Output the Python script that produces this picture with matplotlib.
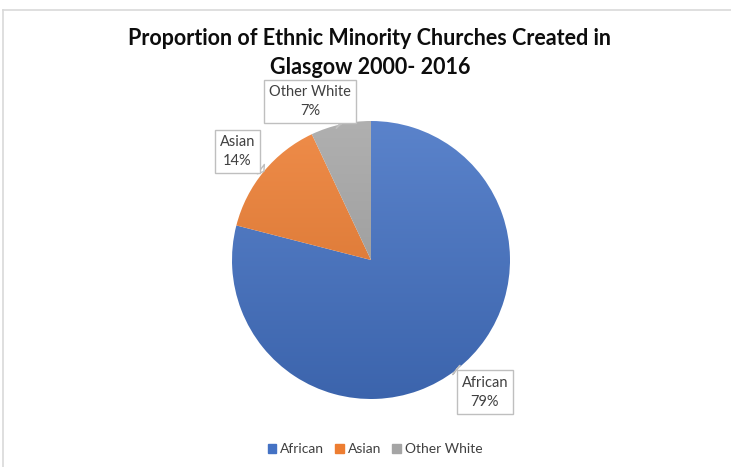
import numpy as np
import matplotlib
matplotlib.use('Agg')
import matplotlib.pyplot as plt
from matplotlib.patches import Patch
import matplotlib.colors as mcolors

plt.rcParams['font.family'] = ['Lato', 'DejaVu Sans']

groups = ['African', 'Asian', 'Other White']
shares = [79, 14, 7]
colours = ['#4472C4', '#ED7D31', '#A5A5A5']
title = 'Proportion of Ethnic Minority Churches Created in\nGlasgow 2000- 2016'

# where each callout box sits, in pie units
label_pos = {'African': (0.82, -0.95), 'Asian': (-0.96, 0.78), 'Other White': (-0.44, 1.14)}

W, H = 731, 467
fig = plt.figure(figsize=(W / 100, H / 100), dpi=100)

# chart frame (only top and left edges fall inside the image)
fig.add_artist(plt.Line2D([3 / W, 3 / W], [0, 1 - 10 / H], color='#d9d9d9', lw=1.2, transform=fig.transFigure))
fig.add_artist(plt.Line2D([3 / W, 1], [1 - 10 / H, 1 - 10 / H], color='#d9d9d9', lw=1.2, transform=fig.transFigure))

fig.text(370 / W, 1 - 53 / H, title, ha='center', va='center', fontsize=15.5,
         fontweight='bold', color='#0d0d0d', linespacing=1.45)

cx, cy, r = 371, 260, 139
ax = fig.add_axes([(cx - r) / W, (H - cy - r) / H, 2 * r / W, 2 * r / H])
ax.axis('off')

wedges, _ = ax.pie(shares, colors=colours, startangle=90, counterclock=False, radius=1,
                   wedgeprops=dict(linewidth=0))

# soft vertical shading like the office gradient fill
yy = np.linspace(1, -1, 300)[:, None] * np.ones((1, 300))
for w, c in zip(wedges, colours):
    base = np.array(mcolors.to_rgb(c))
    light = base + (1 - base) * 0.12
    dark = base * 0.88
    t = (1 - yy) / 2
    img = light[None, None, :] * (1 - t[..., None]) + dark[None, None, :] * t[..., None]
    im = ax.imshow(img, extent=(-1, 1, -1, 1), zorder=w.get_zorder())
    im.set_clip_path(w)
    w.set_alpha(0)

total = sum(shares)
start = 90.0
for name, v in zip(groups, shares):
    span = v / total * 360
    mid = np.deg2rad(start - span / 2)
    start -= span
    tip = (np.cos(mid), np.sin(mid))
    ax.annotate(f'{name}\n{v}%', xy=tip, xytext=label_pos[name], ha='center', va='center',
                fontsize=10.5, color='#404040', linespacing=1.45, annotation_clip=False, zorder=10,
                bbox=dict(boxstyle='square,pad=0.35', fc='white', ec='#bfbfbf', lw=1),
                arrowprops=dict(arrowstyle='wedge,tail_width=0.8', fc='white', ec='#bfbfbf',
                                lw=1, shrinkA=0, shrinkB=0))

ax.set_xlim(-1, 1)
ax.set_ylim(-1, 1)
ax.set_aspect('equal')

handles = [Patch(color=c, label=g) for g, c in zip(groups, colours)]
fig.legend(handles=handles, loc='center', bbox_to_anchor=(375 / W, 1 - 449 / H), ncol=3,
           frameon=False, fontsize=10, handlelength=0.6, handleheight=0.6,
           handletextpad=0.3, columnspacing=0.8, labelcolor='#404040')

fig.savefig('out.png', dpi=100)
